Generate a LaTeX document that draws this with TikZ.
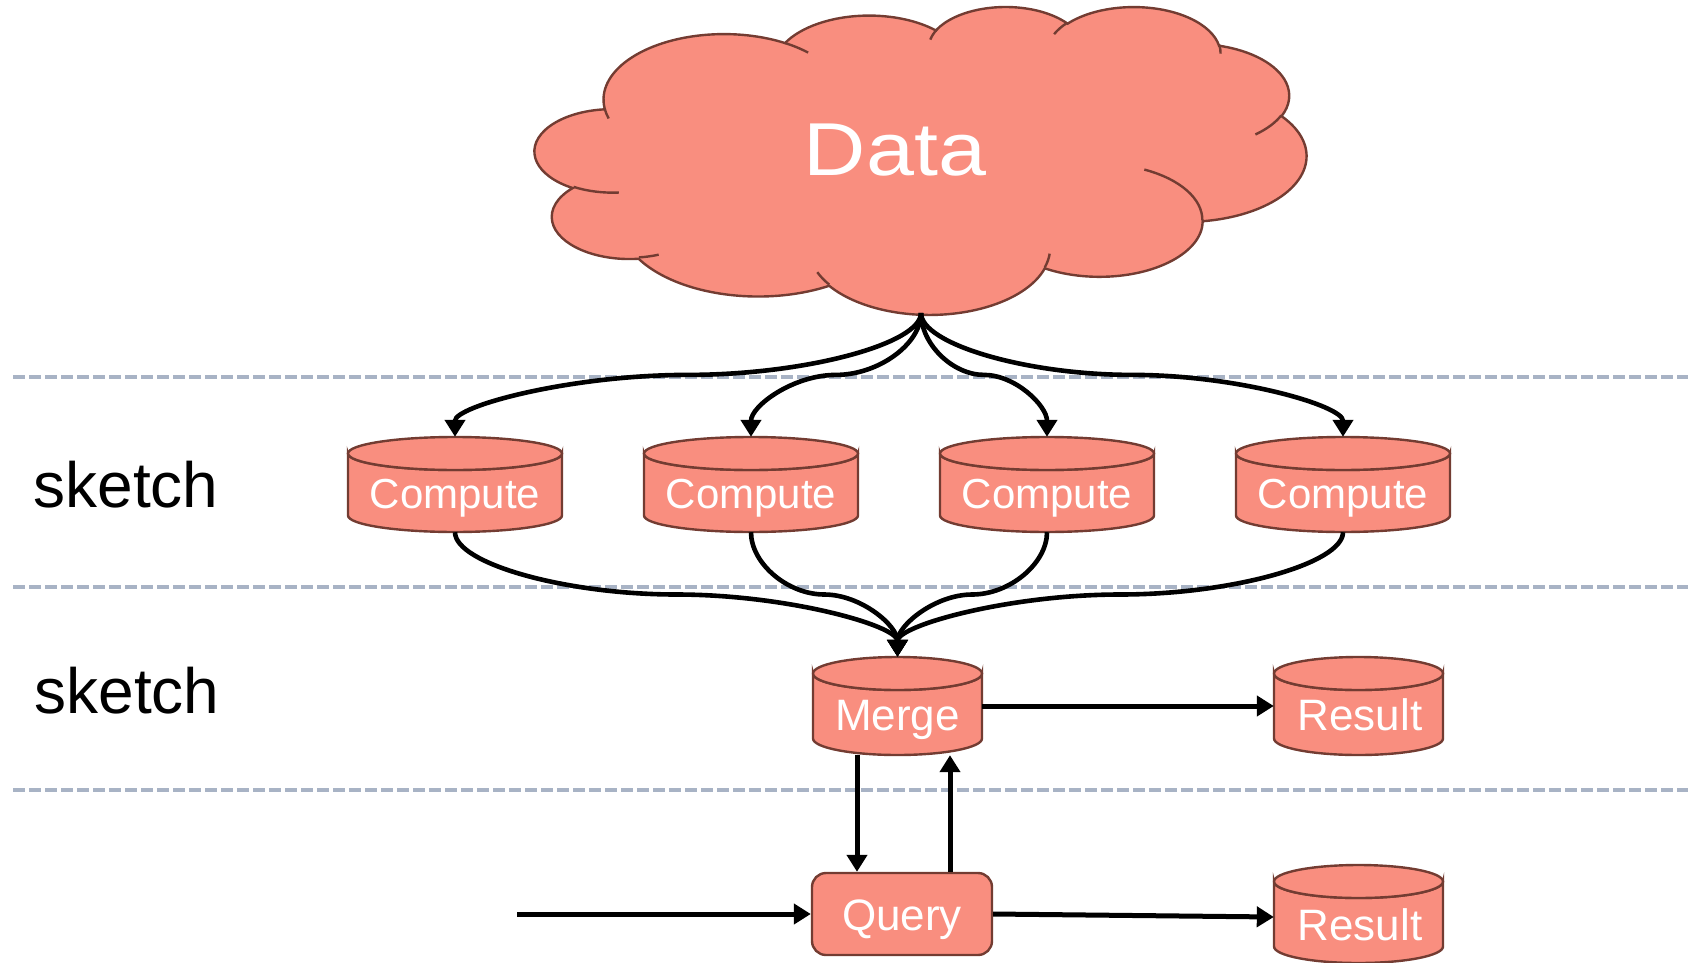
\documentclass[tikz,border=0pt]{standalone}
\usepackage{fontspec}
\setmainfont{Liberation Sans}
\newfontfamily\datafont{Liberation Sans}[FakeStretch=1.15]
\usetikzlibrary{arrows.meta,calc}
\definecolor{cfill}{HTML}{F98E7F}
\definecolor{cedge}{HTML}{733C32}
\definecolor{sepc}{HTML}{A8B3C5}
% cloud arcs (DrawingML cloud geometry, visual angles -> parametric)
\newcommand\mkcloudarc[5]{%
  \pgfmathsetmacro\cldA{atan2((#2)*sin(#4),(#3)*cos(#4))}%
  \pgfmathsetmacro\cldB{atan2((#2)*sin((#4)+(#5)),(#3)*cos((#4)+(#5)))}%
  \pgfmathsetmacro\cldD{(\cldB)-(\cldA)}%
  \pgfmathsetmacro\cldD{(\cldD)+360*round(((#5)-(\cldD))/360)}%
  \expandafter\xdef\csname #1\endcsname{arc[x radius=#2,y radius=#3,start angle=\cldA,delta angle=\cldD]}%
}
\mkcloudarc{cmA}{6753}{9190}{-190.4875}{123.7805}
\mkcloudarc{cmB}{5333}{7267}{-144.1024}{89.9452}
\mkcloudarc{cmC}{4365}{5945}{-145.8079}{99.7230}
\mkcloudarc{cmD}{4857}{6595}{-130.9861}{117.2417}
\mkcloudarc{cmE}{5333}{7273}{-78.7089}{109.0269}
\mkcloudarc{cmF}{6775}{9220}{-46.2673}{130.2690}
\mkcloudarc{cmG}{5785}{7867}{0.6250}{114.0333}
\mkcloudarc{cmH}{6752}{9215}{22.4516}{115.1726}
\mkcloudarc{cmI}{7720}{10543}{66.2426}{75.7110}
\mkcloudarc{cmJ}{4360}{5918}{-274.9421}{146.7356}
\mkcloudarc{cmK}{4345}{5945}{-246.8285}{152.5189}
\mkcloudarc{chA}{4345}{5945}{86.7420}{26.4295}
\mkcloudarc{chB}{4360}{5918}{73.6105}{11.4475}
\mkcloudarc{chC}{6752}{9215}{137.6242}{14.0811}
\mkcloudarc{chD}{6752}{9215}{6.4533}{15.9984}
\mkcloudarc{chE}{5785}{7867}{-70.2924}{70.9174}
\mkcloudarc{chF}{5333}{7273}{30.3180}{27.7515}
\mkcloudarc{chG}{4857}{6595}{-13.7443}{14.8589}
\mkcloudarc{chH}{4857}{6595}{-149.1815}{18.1954}
\mkcloudarc{chI}{4365}{5945}{-163.4943}{17.6864}
\mkcloudarc{chJ}{6753}{9190}{-66.7070}{12.3194}
\mkcloudarc{chK}{6753}{9190}{157.6544}{11.8582}
% cylinder: name, cx, top, w, h
\newcommand\cylnode[5]{%
  \node[cylbox, minimum width=#4pt, minimum height=#5pt] (#1) at (#2,{#3+#5/2}) {};
  \draw[cylsty] ({#2-#4/2},{#3+16.5}) -- ({#2-#4/2},{#3+#5-16.5})
    arc[start angle=180,end angle=0,x radius={#4/2},y radius=16.5]
    -- ({#2+#4/2},{#3+16.5})
    arc[start angle=0,end angle=180,x radius={#4/2},y radius=16.5] -- cycle;
  \draw[cylsty] (#2,{#3+16.5}) ellipse[x radius={#4/2},y radius=16.5];
}
% curved connector: from, to, dx, dy
\newcommand\sconn[4]{%
  \draw[arr] (#1) .. controls +(0,{(#4)/4}) and +({-(#3)/4},0) ..
    ($(#1)!0.5!(#2)$) .. controls +({(#3)/4},0) and +(0,{-(#4)/4}) .. (#2);}
\begin{document}
\begin{tikzpicture}[x=1pt,y=-1pt,
  cylbox/.style={draw=none, inner sep=0pt, rectangle},
  cylsty/.style={fill=cfill, draw=cedge, line width=2.4pt},
  lbl/.style={text=white, inner sep=0pt, anchor=base},
  small/.style={font=\fontsize{42}{48}\selectfont},
  mid/.style={font=\fontsize{44}{50}\selectfont},
  arr/.style={line width=4.6pt, -{Triangle[length=17pt,width=20pt]}},
  sarr/.style={arr, line width=5pt},
  sepline/.style={draw=sepc, line width=3.5pt, dash pattern=on 12pt off 4pt},
  side/.style={inner sep=0pt, anchor=base, font=\fontsize{64}{70}\selectfont},
]
\useasboundingbox (0,0) rectangle (1688,963);
% separators
\draw[sepline] (13,377) -- (1688,377);
\draw[sepline] (13,587) -- (1688,587);
\draw[sepline] (13,790) -- (1688,790);
% side labels
\node[side] (sk1) at (126,507) {sketch};
\node[side] (sk2) at (127,713) {sketch};
% cloud
\begin{scope}[shift={(535,6)}, x=0.0178472pt, y=-0.0071296pt]
\filldraw[fill=cfill, draw=cedge, line width=2.4pt] (3900,14370) \cmA\cmB\cmC\cmD\cmE\cmF\cmG\cmH\cmI\cmJ\cmK -- cycle;
\draw[draw=cedge, line width=2.4pt] (4693,26177) \chA (6928,34899) \chB
  (16478,39090) \chC (28827,34751) \chD (34129,22954) \chE
  (41798,15354) \chF (38324,5426) \chG (29078,3952) \chH
  (22141,4720) \chI (14000,5192) \chJ (4127,15789) \chK;
\end{scope}
\node[lbl, font=\datafont\fontsize{75}{80}\selectfont] (data) at (895,175) {Data};
\coordinate (databot) at (921,313);
% compute cylinders
\cylnode{c1}{455}{437}{214}{95}
\cylnode{c2}{751}{437}{214}{95}
\cylnode{c3}{1047}{437}{214}{95}
\cylnode{c4}{1343}{437}{214}{95}
\node[lbl, small] (c1t) at (455,508) {Compute};
\node[lbl, small] (c2t) at (751,508) {Compute};
\node[lbl, small] (c3t) at (1047,508) {Compute};
\node[lbl, small] (c4t) at (1343,508) {Compute};
% merge and results
\cylnode{merge}{897.5}{657}{169}{98}
\cylnode{res1}{1358.5}{657}{169}{98}
\cylnode{res2}{1358.5}{865}{169}{98}
\node[lbl, mid] (merget) at (897.5,730) {Merge};
\node[lbl, mid] (res1t) at (1360,730) {Result};
\node[lbl, mid] (res2t) at (1360,940) {Result};
% query
\node[draw=cedge, fill=cfill, line width=2.4pt, rounded corners=14pt,
  minimum width=180pt, minimum height=82pt, inner sep=0pt] (query) at (902,914) {};
\node[lbl, mid] (queryt) at (902,930) {Query};
% connectors from data
\sconn{databot}{c1.north}{-466}{124}
\sconn{databot}{c2.north}{-170}{124}
\sconn{databot}{c3.north}{126}{124}
\sconn{databot}{c4.north}{422}{124}
% connectors to merge
\sconn{c1.south}{merge.north}{442.5}{125}
\sconn{c2.south}{merge.north}{146.5}{125}
\sconn{c3.south}{merge.north}{-149.5}{125}
\sconn{c4.south}{merge.north}{-445.5}{125}
% straight arrows
\draw[sarr] (merge.east) -- (res1.west);
\draw[sarr] ([xshift=-40.5pt]merge.south) -- ([xshift=-45pt]query.north);
\draw[sarr] ([xshift=48pt]query.north) -- ([xshift=52.5pt]merge.south);
\coordinate (qin) at (517,914);
\draw[sarr] (qin) -- (query.west);
\draw[sarr] (query.east) -- ([yshift=-3pt]res2.west);
\end{tikzpicture}
\end{document}
